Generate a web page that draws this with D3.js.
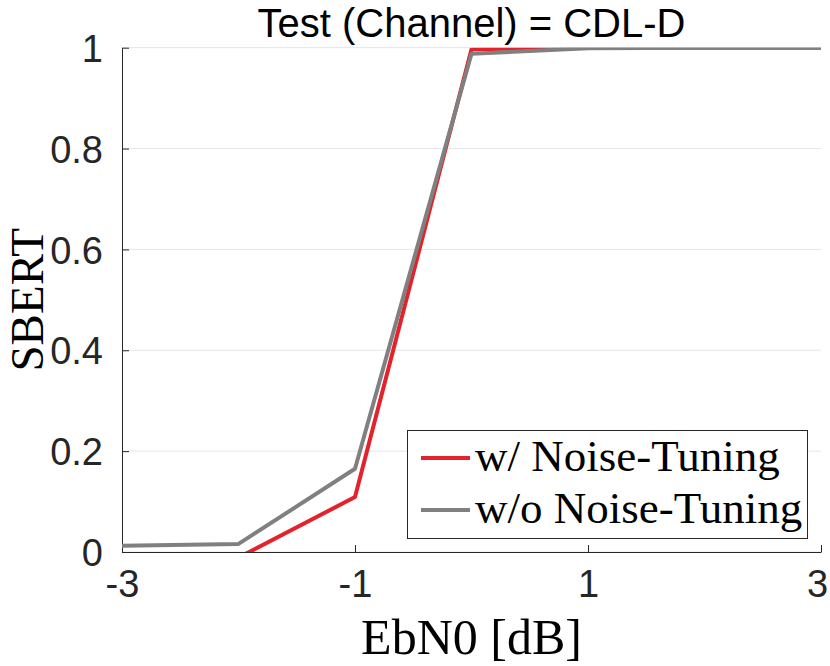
<!DOCTYPE html>
<html>
<head>
<meta charset="utf-8">
<script src="https://cdn.jsdelivr.net/npm/d3@7"></script>
<style>
body { margin: 0; background: #fff; }
svg { display: block; }
</style>
</head>
<body>
<div id="the_chart"></div>
<script>
let ebn0 = [-3, -2, -1, 0, 1, 2, 3];
let with_tuning = [-0.012, -0.011, 0.109, 0.997, 1.0, 1.0, 1.0];
let without_tuning = [0.0125, 0.016, 0.165, 0.988, 0.999, 1.0, 1.0];
let series_names = ["w/ Noise-Tuning", "w/o Noise-Tuning"];
let x_ticks = [-3, -1, 1, 3];
let y_ticks = [0, 0.2, 0.4, 0.6, 0.8, 1];

gen_vis();

function gen_vis() {
    var w = 830;
    var h = 666;
    var left = 122, right = 821, top = 47.7, bottom = 552;
    var axis_col = "#262626";
    var colors = ["#e3222b", "#808080"];

    var xscale = d3.scaleLinear().domain([-3, 3]).range([left, right]);
    var yscale = d3.scaleLinear().domain([0, 1]).range([bottom, top]);

    var svg = d3.select("#the_chart").append("svg")
        .attr("width", w)
        .attr("height", h);

    svg.append("defs").append("clipPath").attr("id", "clip")
        .append("rect")
        .attr("x", left).attr("y", top)
        .attr("width", right - left).attr("height", bottom - top);

    // horizontal grid
    svg.append("g").selectAll("line")
        .data(y_ticks)
        .enter().append("line")
        .attr("x1", left).attr("x2", right)
        .attr("y1", d => yscale(d)).attr("y2", d => yscale(d))
        .attr("stroke", "#e6e6e6")
        .attr("stroke-width", 1);

    // y axis
    var yaxis = d3.axisLeft(yscale)
        .tickValues(y_ticks)
        .tickFormat(d => String(d))
        .tickSizeInner(-7)
        .tickSizeOuter(0)
        .tickPadding(19);
    var gy = svg.append("g")
        .attr("transform", "translate(" + left + ",0)")
        .call(yaxis);

    // x axis, plain hyphen for the minus like the original
    var xaxis = d3.axisBottom(xscale)
        .tickValues(x_ticks)
        .tickFormat(d => String(d))
        .tickSizeInner(-7)
        .tickSizeOuter(0)
        .tickPadding(18);
    var gx = svg.append("g")
        .attr("transform", "translate(0," + bottom + ")")
        .call(xaxis);

    [gx, gy].forEach(g => {
        g.select(".domain").attr("stroke", axis_col).attr("stroke-width", 1);
        g.selectAll(".tick line").attr("stroke", axis_col).attr("stroke-width", 1);
        g.selectAll(".tick text")
            .attr("fill", axis_col)
            .style("font-family", "'Liberation Sans', Arial, sans-serif")
            .style("font-size", "38px");
    });
    gy.selectAll(".tick text").attr("dy", "0.36em");
    gx.selectAll(".tick text").attr("dy", "0.72em");
    // keep the last label inside the window
    gx.selectAll(".tick text").filter(d => d === 3).attr("dx", "-4");

    // lines
    var line = d3.line()
        .x((d, i) => xscale(ebn0[i]))
        .y(d => yscale(d));
    var plot = svg.append("g").attr("clip-path", "url(#clip)");
    [with_tuning, without_tuning].forEach((s, k) => {
        plot.append("path")
            .datum(s)
            .attr("d", line)
            .attr("fill", "none")
            .attr("stroke", colors[k])
            .attr("stroke-width", 4)
            .attr("stroke-linejoin", "round");
    });

    // title
    svg.append("text")
        .attr("x", (left + right) / 2)
        .attr("y", 37)
        .attr("text-anchor", "middle")
        .style("font-family", "'Liberation Sans', Arial, sans-serif")
        .style("font-size", "40px")
        .attr("fill", "#000")
        .text("Test (Channel) = CDL-D");

    // axis labels
    svg.append("text")
        .attr("x", (left + right) / 2)
        .attr("y", 654)
        .attr("text-anchor", "middle")
        .style("font-family", "'Liberation Serif', 'Times New Roman', serif")
        .style("font-size", "50px")
        .text("EbN0 [dB]");
    svg.append("text")
        .attr("transform", "translate(43," + ((top + bottom) / 2) + ") rotate(-90)")
        .attr("text-anchor", "middle")
        .style("font-family", "'Liberation Serif', 'Times New Roman', serif")
        .style("font-size", "47px")
        .text("SBERT");

    // legend
    var lg = svg.append("g");
    lg.append("rect")
        .attr("x", 407.5).attr("y", 430.5)
        .attr("width", 400).attr("height", 108)
        .attr("fill", "#fff")
        .attr("stroke", axis_col)
        .attr("stroke-width", 1);
    series_names.forEach((name, k) => {
        var cy = 458 + k * 52;
        lg.append("line")
            .attr("x1", 421).attr("x2", 470)
            .attr("y1", cy).attr("y2", cy)
            .attr("stroke", colors[k])
            .attr("stroke-width", 4);
        lg.append("text")
            .attr("x", 475)
            .attr("y", cy + 13)
            .style("font-family", "'Liberation Serif', 'Times New Roman', serif")
            .style("font-size", "45px")
            .text(name);
    });
}
</script>
</body>
</html>
